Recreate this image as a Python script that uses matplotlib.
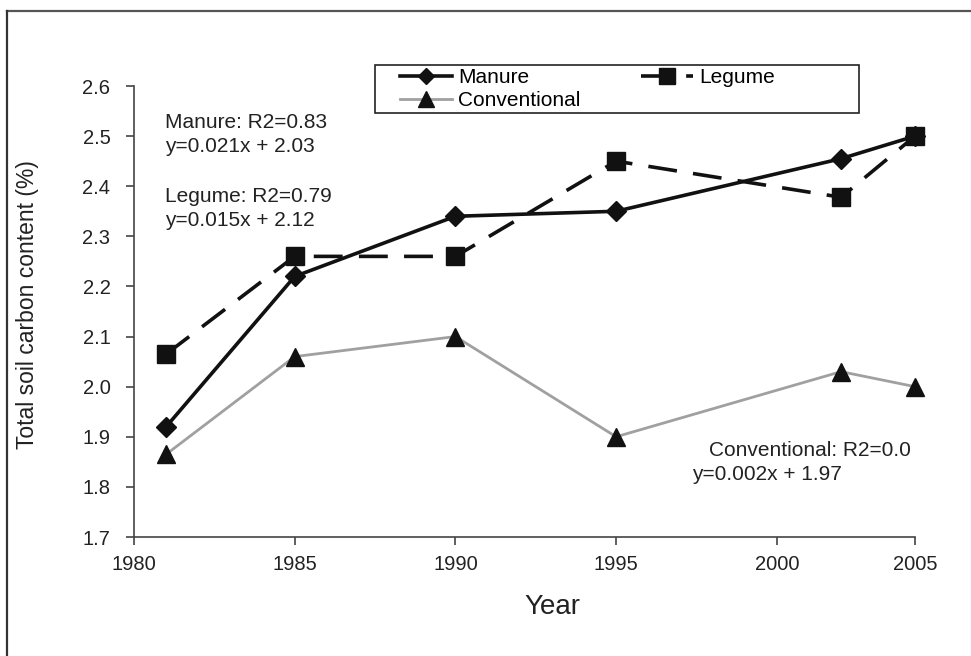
import matplotlib
matplotlib.use("Agg")
import matplotlib.pyplot as plt
from matplotlib.patches import Rectangle
from matplotlib.lines import Line2D

plt.rcParams['font.family'] = ['Liberation Sans', 'DejaVu Sans']

years = [1981, 1985, 1990, 1995, 2002, 2004.3]
manure = [1.92, 2.22, 2.34, 2.35, 2.455, 2.50]
legume = [2.065, 2.26, 2.26, 2.45, 2.378, 2.50]
conventional = [1.865, 2.06, 2.10, 1.90, 2.03, 2.00]

xtick_pos = [1980, 1985, 1990, 1995, 2000, 2004.3]
xtick_labels = ['1980', '1985', '1990', '1995', '2000', '2005']
yticks = [1.7, 1.8, 1.9, 2.0, 2.1, 2.2, 2.3, 2.4, 2.5, 2.6]

W, H = 971, 656
fig = plt.figure(figsize=(W / 100, H / 100), dpi=100)
ax = fig.add_axes([134 / W, 1 - 537 / H, (915 - 134) / W, (537 - 86) / H])

lc, = ax.plot(years, conventional, color='#a0a0a0', lw=2.0, marker='^',
              markersize=13, markerfacecolor='#111111', markeredgecolor='#111111',
              zorder=2, clip_on=False)
ll, = ax.plot(years, legume, color='#111111', lw=2.6, marker='s',
              markersize=13, markerfacecolor='#111111', markeredgecolor='#111111',
              zorder=3, clip_on=False)
ll.set_dashes([8, 4.5])
lm, = ax.plot(years, manure, color='#111111', lw=2.6, marker='D',
              markersize=10, markerfacecolor='#111111', markeredgecolor='#111111',
              zorder=4, clip_on=False)

ax.set_xlim(1980, 2004.3)
ax.set_ylim(1.7, 2.6)
ax.set_xticks(xtick_pos)
ax.set_xticklabels(xtick_labels)
ax.set_yticks(yticks)
ax.set_yticklabels([f'{v:.1f}' for v in yticks])
for s in ['top', 'right']:
    ax.spines[s].set_visible(False)
for s in ['left', 'bottom']:
    ax.spines[s].set_color('#444444')
    ax.spines[s].set_linewidth(1.2)
ax.tick_params(axis='both', direction='out', length=6, width=1.2, color='#444444',
               labelsize=14.5, labelcolor='#222222')
ax.tick_params(axis='x', pad=7)
ax.tick_params(axis='y', pad=11)

fig.text(28 / W, 1 - 305 / H, 'Total soil carbon content (%)', rotation=90,
         ha='center', va='center', fontsize=16.5, color='#222222')
fig.text(552 / W, 1 - 607 / H, 'Year', ha='center', va='center', fontsize=20, color='#222222')

ann = dict(fontsize=15, color='#222222', transform=fig.transFigure)
fig.text(165 / W, 1 - 122 / H, 'Manure: R2=0.83', va='center', **ann)
fig.text(165 / W, 1 - 146 / H, 'y=0.021x + 2.03', va='center', **ann)
fig.text(165 / W, 1 - 196 / H, 'Legume: R2=0.79', va='center', **ann)
fig.text(165 / W, 1 - 220 / H, 'y=0.015x + 2.12', va='center', **ann)
fig.text(911 / W, 1 - 450 / H, 'Conventional: R2=0.0', va='center', ha='right', **ann)
fig.text(692 / W, 1 - 474 / H, 'y=0.002x + 1.97', va='center', **ann)

# figure frame (top and left edges)
fig.add_artist(Line2D([7 / W, 1.0], [1 - 11 / H, 1 - 11 / H], transform=fig.transFigure,
                      color='#555555', lw=1.6))
fig.add_artist(Line2D([7 / W, 7 / W], [0.0, 1 - 11 / H], transform=fig.transFigure,
                      color='#333333', lw=1.6))

# legend
fig.patches.append(Rectangle((375 / W, 1 - 113 / H), (859 - 375) / W, (113 - 65) / H,
                             transform=fig.transFigure, fill=False, edgecolor='#222222',
                             lw=1.2, zorder=5))
leg = fig.legend([lm, lc, ll], ['Manure', 'Conventional', 'Legume'], ncol=2,
                 loc='upper left', bbox_to_anchor=(400 / W, 1 - 68 / H), frameon=False,
                 fontsize=15, handlelength=2.5, handletextpad=0.3, columnspacing=2.9,
                 labelspacing=0.2, borderpad=0, borderaxespad=0, markerscale=0.85)

fig.savefig('out.png', dpi=100)
